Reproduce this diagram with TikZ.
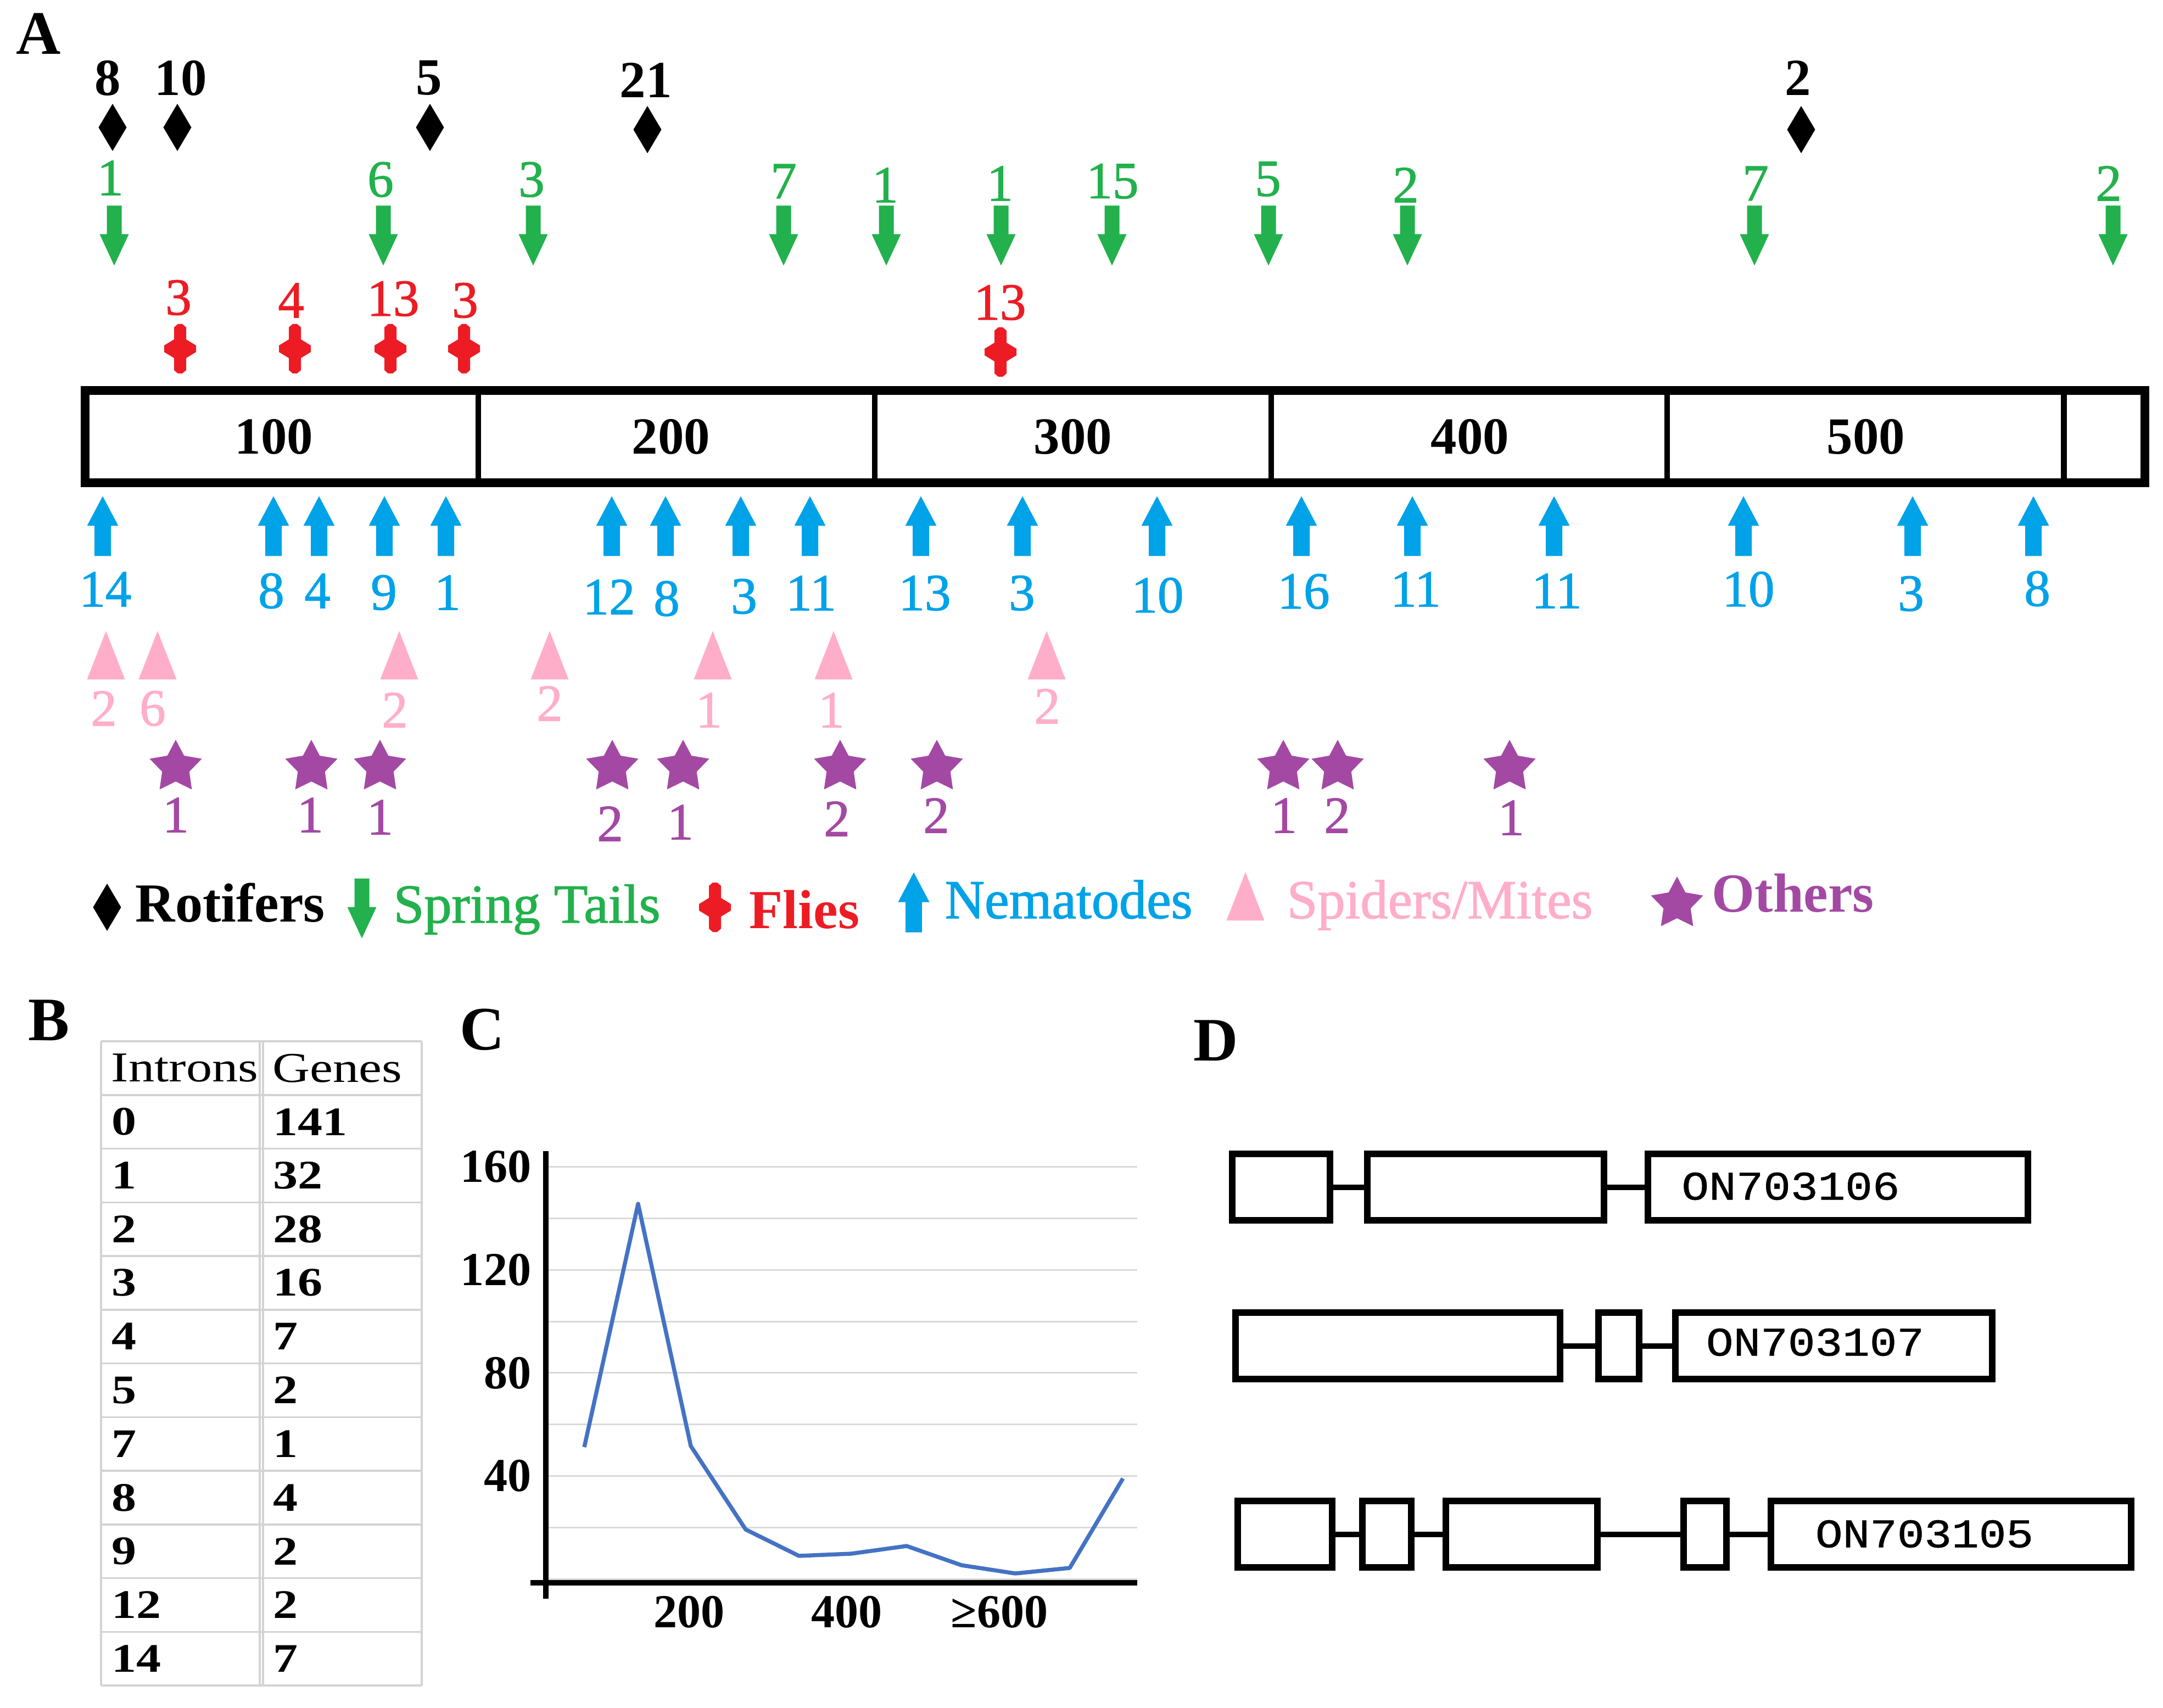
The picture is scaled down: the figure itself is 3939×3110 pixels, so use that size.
\documentclass[tikz,border=0pt]{standalone}
\usepackage{fontspec}
\setmainfont{Liberation Serif}
\newfontfamily\numfnt[FakeBold=1.3]{Liberation Serif}
\newfontfamily\monofnt[FakeStretch=1.12,FakeBold=0.8]{Liberation Mono}
\newfontfamily\widefnt[FakeStretch=1.22]{Liberation Serif}
\definecolor{sgreen}{HTML}{22B14C}
\definecolor{fred}{HTML}{ED1C24}
\definecolor{nblue}{HTML}{00A2E8}
\definecolor{spink}{HTML}{FFAEC9}
\definecolor{opurple}{HTML}{A349A4}
\definecolor{cblue}{HTML}{4472C4}
\definecolor{gridgray}{HTML}{D9D9D9}
\definecolor{tblgray}{HTML}{D3D3D3}
\tikzset{
  numlbl/.style={inner sep=0pt, font=\fontsize{27pt}{30pt}\numfnt},
  boldnum/.style={inner sep=0pt, font=\fontsize{27pt}{30pt}\selectfont\bfseries},
  panellbl/.style={inner sep=0pt, font=\fontsize{32pt}{36pt}\selectfont\bfseries},
  legtxt/.style={inner sep=0pt, anchor=base west, font=\fontsize{28.5pt}{32pt}\numfnt},
  legbold/.style={inner sep=0pt, anchor=base west, font=\fontsize{28.5pt}{32pt}\selectfont\bfseries},
  tbltxt/.style={inner sep=0pt, anchor=west, font=\fontsize{21pt}{24pt}\widefnt\bfseries},
  tblhead/.style={inner sep=0pt, anchor=west, font=\fontsize{22pt}{24pt}\widefnt},
  tblline/.style={draw=tblgray, line width=1pt},
  axislbl/.style={inner sep=0pt, font=\fontsize{24.5pt}{28pt}\selectfont\bfseries},
  exonbox/.style={draw, line width=3.4pt, inner sep=0pt, minimum height=1.21cm},
  intronln/.style={line width=2.85pt},
  acclbl/.style={inner sep=0pt, font=\fontsize{21pt}{24pt}\monofnt},
  rotifermk/.pic={\fill[black] (0,-43) -- (25.5,0) -- (0,43) -- (-25.5,0) -- cycle;},
  springmk/.pic={\fill[sgreen] (-13.5,-54.5) -- (13.5,-54.5) -- (13.5,-2.5) -- (26.5,-2.5) -- (0,54.5) -- (-26.5,-2.5) -- (-13.5,-2.5) -- cycle;},
  flymk/.pic={\fill[fred] (-4,-45) -- (4,-45) -- (11,-39) -- (11,-17) -- (29,-6) -- (29,6) -- (11,17) -- (11,39) -- (4,45) -- (-4,45) -- (-11,39) -- (-11,17) -- (-29,6) -- (-29,-6) -- (-11,-17) -- (-11,-39) -- cycle;},
  nemamk/.pic={\fill[nblue] (0,-54.5) -- (28.5,-0.5) -- (15,-0.5) -- (15,54.5) -- (-15,54.5) -- (-15,-0.5) -- (-28.5,-0.5) -- cycle;},
  spidermk/.pic={\fill[spink] (0,-44) -- (34.5,44) -- (-34.5,44) -- cycle;},
  othermk/.pic={\fill[opurple, line join=round] (-90:50) foreach \j in {0,...,4} { -- ({-54+72*\j}:26) -- ({-18+72*\j}:50) } -- cycle;}
}
\begin{document}
\begin{tikzpicture}[x=0.01cm,y=-0.01cm]
\useasboundingbox (0,0) rectangle (3939,3110);
% ---------- panel A ----------
\node[panellbl] (lblA) at (70,61) {A};
% rotifers
\foreach \lx/\ly/\mx/\my/\t [count=\i] in {196/142/205/232/8, 329/142/323/232/10, 781/142/783/232/5, 1176/146/1179/236/21, 3274/142/3280/236/2} {
  \node[boldnum] (rot\i) at (\lx,\ly) {\t};
  \pic at (\mx,\my) {rotifermk};
}
% spring tails
\foreach \lx/\ly/\mx/\t [count=\i] in {201/324/208/1, 693/327/698/6, 968/327/971/3, 1427/330/1427/7, 1612/337/1614/1, 1821/334/1823/1, 2026/330/2025/15, 2309/326/2310/5, 2560/337/2563/2, 3197/334/3195/7, 3840/334/3848/2} {
  \node[numlbl, text=sgreen] (spr\i) at (\lx,\ly) {\t};
  \pic at (\mx,429) {springmk};
}
% flies
\foreach \lx/\ly/\mx/\my/\t [count=\i] in {325/542/328/635/3, 530/547/537/635/4, 716/544/711/635/13, 847/547/845/635/3, 1821/551/1822/641/13} {
  \node[numlbl, text=fred] (fly\i) at (\lx,\ly) {\t};
  \pic at (\mx,\my) {flymk};
}
% bar
\draw[line width=4.8pt] (155,711) rectangle (3906,879);
\foreach \dx in {871,1593,2315,3036,3758} \draw[line width=3.1pt] (\dx,711) -- (\dx,879);
\foreach \sx/\t [count=\i] in {499/100, 1222/200, 1954/300, 2677/400, 3398/500} {
  \node[boldnum] (seg\i) at (\sx,795) {\t};
}
% nematodes
\foreach \mx/\lx/\ly/\t [count=\i] in {187/192/1073/14, 498/494/1076/8, 581/578/1076/4, 700/699/1079/9, 812/815/1079/1, 1114/1109/1087/12, 1212/1214/1090/8, 1349/1355/1086/3, 1475/1477/1080/11, 1677/1684/1080/13, 1862/1861/1080/3, 2107/2108/1084/10, 2370/2374/1077/16, 2572/2578/1073/11, 2830/2835/1076/11, 3175/3184/1073/10, 3483/3480/1081/3, 3703/3710/1072/8} {
  \pic at (\mx,958) {nemamk};
  \node[numlbl, text=nblue] (nem\i) at (\lx,\ly) {\t};
}
% spiders / mites
\foreach \mx/\lx/\ly/\t [count=\i] in {193/189/1290/2, 287/278/1290/6, 727/719/1293/2, 1001/1001/1281/2, 1298/1291/1293/1, 1518/1514/1293/1, 1906/1907/1286/2} {
  \pic at (\mx,1193) {spidermk};
  \node[numlbl, text=spink] (spi\i) at (\lx,\ly) {\t};
}
% others
\foreach \mx/\lx/\ly/\t [count=\i] in {320/320/1484/1, 567/565/1484/1, 692/692/1488/1, 1115/1111/1500/2, 1244/1239/1497/1, 1530/1524/1491/2, 1706/1705/1485/2, 2337/2338/1485/1, 2436/2435/1485/2, 2749/2752/1489/1} {
  \pic at (\mx,1397) {othermk};
  \node[numlbl, text=opurple] (oth\i) at (\lx,\ly) {\t};
}
% legend
\pic at (195,1652) {rotifermk};
\node[legbold] (legRot) at (246,1678) {Rotifers};
\pic at (659,1654) {springmk};
\node[legtxt, text=sgreen] (legSpr) at (716,1680) {Spring Tails};
\pic at (1302,1652) {flymk};
\node[legbold, text=fred] (legFly) at (1364,1690) {Flies};
\pic at (1664,1643) {nemamk};
\node[legtxt, text=nblue] (legNem) at (1720,1672) {Nematodes};
\pic at (2268,1632) {spidermk};
\node[legtxt, text=spink] (legSpi) at (2343,1672) {Spiders/Mites};
\pic at (3054,1646) {othermk};
\node[legbold, text=opurple] (legOth) at (3117,1660) {Others};
% ---------- panel B ----------
\node[panellbl] (lblB) at (89,1858) {B};
\foreach \k in {0,...,12} \draw[tblline] (184,{1896+97.75*\k}) -- (768,{1896+97.75*\k});
\foreach \vx in {184,473,479,768} \draw[tblline] (\vx,1896) -- (\vx,3069);
\node[tblhead] (thI) at (202,1945) {Introns};
\node[tblhead] (thG) at (496,1945) {Genes};
\foreach \a/\b [count=\r] in {0/141,1/32,2/28,3/16,4/7,5/2,7/1,8/4,9/2,12/2,14/7} {
  \node[tbltxt] (ti\r) at (203,{1896+97.75*(\r+0.5)}) {\a};
  \node[tbltxt] (tg\r) at (497,{1896+97.75*(\r+0.5)}) {\b};
}
% ---------- panel C ----------
\node[panellbl] (lblC) at (878,1875) {C};
\foreach \v in {0,20,...,160} \draw[gridgray, line width=0.85pt] (999,{2875-4.69*\v}) -- (2071,{2875-4.69*\v});
\draw[line width=2.85pt] (994,2096) -- (994,2911);
\draw[line width=2.85pt] (966,2882) -- (2071,2882);
\foreach \v [count=\i] in {160,120,80,40} \node[axislbl, anchor=east] (ylab\i) at (968,{2875-4.69*\v}) {\v};
\node[axislbl] (xlab1) at (1255,2935) {200};
\node[axislbl] (xlab2) at (1542,2935) {400};
\node[axislbl] (xlab3) at (1820,2935) {≥600};
\draw[cblue, line width=2.1pt, line join=round] (1064,2635) -- (1162,2192) -- (1258,2633) -- (1358,2785) -- (1455,2833) -- (1550,2829) -- (1651,2815) -- (1751,2850) -- (1849,2865) -- (1948,2855) -- (2045,2692);
% ---------- panel D ----------
\node[panellbl] (lblD) at (2214,1895) {D};
\node[exonbox, minimum width=1.78cm] (r1a) at (2333,2161.5) {};
\node[exonbox, minimum width=4.31cm] (r1b) at (2705.5,2161.5) {};
\node[exonbox, minimum width=6.92cm] (r1c) at (3347,2161.5) {};
\draw[intronln] (r1a) -- (r1b);
\draw[intronln] (r1b) -- (r1c);
\node[acclbl] (acc1) at (3261,2160) {ON703106};
\node[exonbox, minimum width=5.91cm] (r2a) at (2545.5,2450.5) {};
\node[exonbox, minimum width=0.74cm] (r2b) at (2948,2450.5) {};
\node[exonbox, minimum width=5.77cm] (r2c) at (3339.5,2450.5) {};
\draw[intronln] (r2a) -- (r2b);
\draw[intronln] (r2b) -- (r2c);
\node[acclbl] (acc2) at (3305.5,2444) {ON703107};
\node[exonbox, minimum width=1.72cm] (r3a) at (2340,2793.5) {};
\node[exonbox, minimum width=0.89cm] (r3b) at (2525.5,2793.5) {};
\node[exonbox, minimum width=2.76cm] (r3c) at (2771,2793.5) {};
\node[exonbox, minimum width=0.78cm] (r3d) at (3105,2793.5) {};
\node[exonbox, minimum width=6.56cm] (r3e) at (3553,2793.5) {};
\draw[intronln] (r3a) -- (r3b);
\draw[intronln] (r3b) -- (r3c);
\draw[intronln] (r3c) -- (r3d);
\draw[intronln] (r3d) -- (r3e);
\node[acclbl] (acc3) at (3504.5,2793) {ON703105};
\end{tikzpicture}
\end{document}
